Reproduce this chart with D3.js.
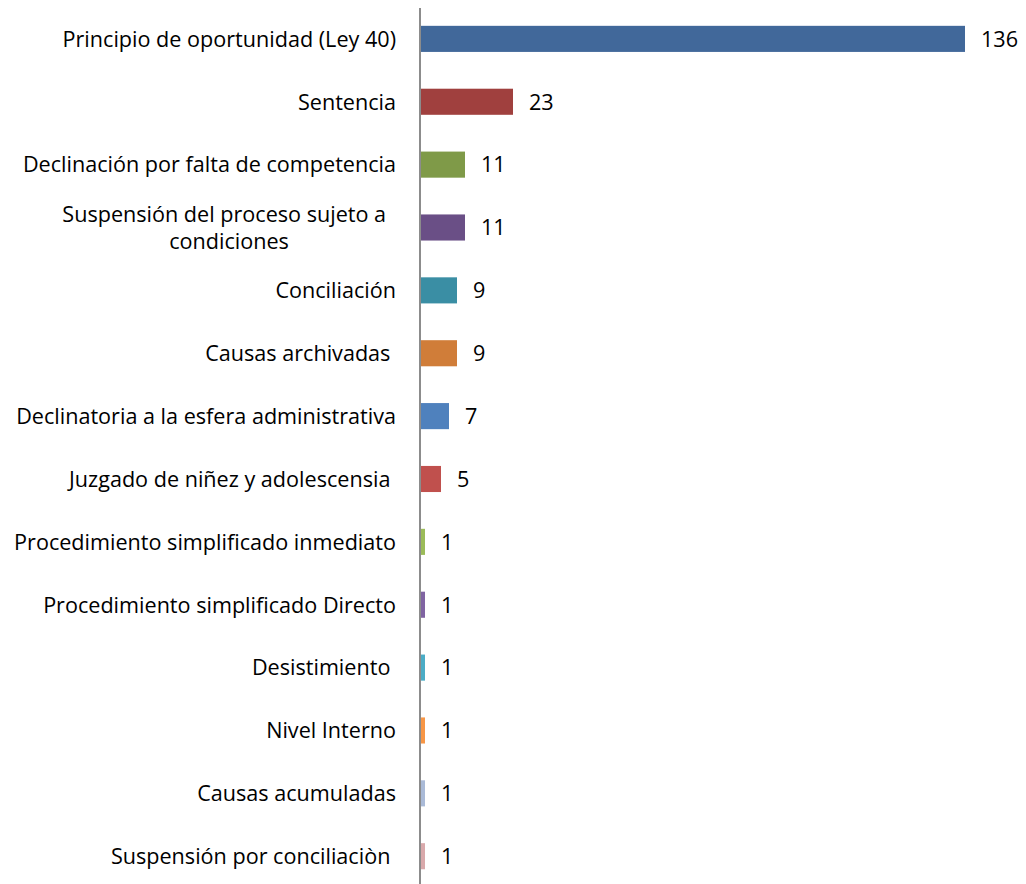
<!DOCTYPE html>
<html>
<head>
<meta charset="utf-8">
<script src="https://cdn.jsdelivr.net/npm/d3@7"></script>
<style>
  body { margin: 0; background: #fff; }
  svg text { font-family: "Open Sans", sans-serif; fill: #000; white-space: pre; }
</style>
</head>
<body>
<svg id="chart" width="1026" height="884"></svg>
<script>
// categories top to bottom, trailing spaces kept as in the source
const categories = [
  "Principio de oportunidad (Ley 40)",
  "Sentencia",
  "Declinación por falta de competencia",
  "Suspensión del proceso sujeto a |condiciones",
  "Conciliación",
  "Causas archivadas ",
  "Declinatoria a la esfera administrativa",
  "Juzgado de niñez y adolescensia ",
  "Procedimiento simplificado inmediato",
  "Procedimiento simplificado Directo",
  "Desistimiento ",
  "Nivel Interno",
  "Causas acumuladas",
  "Suspensión por conciliaciòn "
];
const values = [136, 23, 11, 11, 9, 9, 7, 5, 1, 1, 1, 1, 1, 1];
const barColors = ["#41689a", "#a0403e", "#7f9a48", "#6a4f86", "#3a8ea4", "#d07d39", "#4f81bd",
                   "#c0504d", "#9bbb59", "#8064a2", "#4bacc6", "#f79646", "#aabad7", "#d9a9ab"];

const svg = d3.select('#chart');
const axisX = 420;
const fontSize = 21.6;

const yScale = d3.scaleBand()
                 .domain(d3.range(categories.length))
                 .range([7.6, 887.5])
                 .paddingInner(0.585)
                 .paddingOuter(0.29);
const xScale = d3.scaleLinear()
                 .domain([0, 136])
                 .range([0, 544]);

const g = svg.append('g');

g.selectAll('.bar')
  .data(values)
  .enter()
  .append('rect')
  .classed('bar', true)
  .attr('x', axisX + 1)
  .attr('y', (d, i) => yScale(i))
  .attr('width', d => xScale(d))
  .attr('height', yScale.bandwidth())
  .attr('fill', (d, i) => barColors[i]);

g.selectAll('.val')
  .data(values)
  .enter()
  .append('text')
  .classed('val', true)
  .attr('x', d => axisX + 1 + xScale(d) + 16)
  .attr('y', (d, i) => yScale(i) + yScale.bandwidth() / 2)
  .attr('dy', '0.36em')
  .attr('font-size', fontSize)
  .text(d => d);

// category labels, right aligned against the axis; wrapped ones are centred
categories.forEach((c, i) => {
  const cy = yScale(i) + yScale.bandwidth() / 2;
  const lines = c.split('|');
  if (lines.length === 1) {
    g.append('text')
      .attr('x', 396)
      .attr('y', cy)
      .attr('dy', '0.36em')
      .attr('text-anchor', 'end')
      .attr('font-size', fontSize)
      .text(c);
  } else {
    g.append('text')
      .attr('x', 227)
      .attr('y', cy - 13)
      .attr('dy', '0.36em')
      .attr('text-anchor', 'middle')
      .attr('font-size', fontSize)
      .text(lines[0]);
    g.append('text')
      .attr('x', 229)
      .attr('y', cy + 14)
      .attr('dy', '0.36em')
      .attr('text-anchor', 'middle')
      .attr('font-size', fontSize)
      .text(lines[1]);
  }
});

svg.append('line')
  .attr('x1', axisX).attr('x2', axisX)
  .attr('y1', 8).attr('y2', 884)
  .attr('stroke', '#8c8c8c')
  .attr('stroke-width', 2);
</script>
</body>
</html>
